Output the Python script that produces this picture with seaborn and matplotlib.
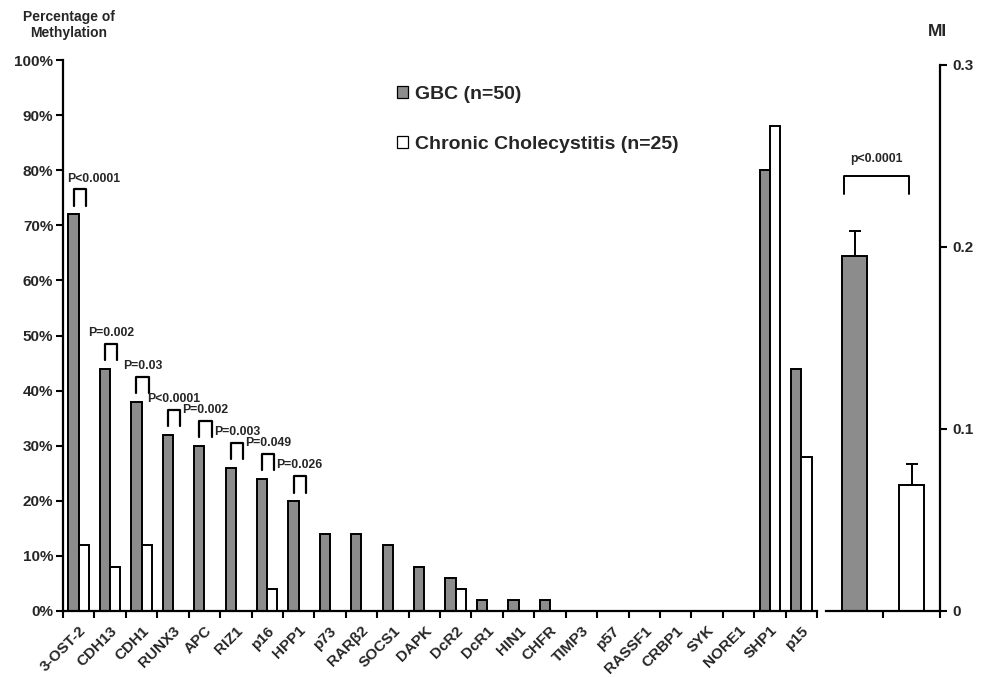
import numpy as np
import pandas as pd
import matplotlib.pyplot as plt
import seaborn as sns
from matplotlib.patches import Patch

# Dados
genes = ["3-OST-2", "CDH13", "CDH1", "RUNX3", "APC", "RIZ1", "p16", "HPP1", "p73",
         "RARβ2", "SOCS1", "DAPK", "DcR2", "DcR1", "HIN1", "CHFR", "TIMP3", "p57",
         "RASSF1", "CRBP1", "SYK", "NORE1", "SHP1", "p15"]
gbc_pct = [72, 44, 38, 32, 30, 26, 24, 20, 14, 14, 12, 8, 6, 2, 2, 2, 0, 0, 0, 0, 0, 0, 80, 44]
cc_pct = [12, 8, 12, 0, 0, 0, 4, 0, 0, 0, 0, 0, 4, 0, 0, 0, 0, 0, 0, 0, 0, 0, 88, 28]
grupos = ["GBC (n=50)", "Chronic Cholecystitis (n=25)"]

p_genes = ["3-OST-2", "CDH13", "CDH1", "RUNX3", "APC", "RIZ1", "p16", "HPP1"]
p_textos = ["P<0.0001", "P=0.002", "P=0.03", "P<0.0001", "P=0.002", "P=0.003", "P=0.049", "P=0.026"]

mi_media = [0.195, 0.069]
mi_erro = [0.014, 0.012]
mi_p = "p<0.0001"

cinza = "#8c8c8c"
cores = [cinza, "white"]

sns.set_theme(style="ticks")
plt.rcParams['font.family'] = ['Liberation Sans', 'DejaVu Sans']
plt.rcParams['font.weight'] = 'bold'

fig = plt.figure(figsize=(9.84, 6.77), dpi=100)
ax = fig.add_axes([63/984, 66/677, 754/984, 551/677])
ax2 = fig.add_axes([826/984, 66/677, 114/984, 546/677])

# painel esquerdo: porcentagem de metilação
df = pd.DataFrame({
    "Gene": genes * 2,
    "Percent": gbc_pct + cc_pct,
    "Grupo": [grupos[0]] * len(genes) + [grupos[1]] * len(genes),
})
sns.barplot(data=df, x="Gene", y="Percent", hue="Grupo", hue_order=grupos,
            palette=cores, saturation=1, edgecolor="black", linewidth=1.4,
            width=0.65, errorbar=None, legend=False, ax=ax)

ax.set_ylim(0, 100)
ax.set_yticks(range(0, 101, 10))
ax.set_yticklabels([f"{v}%" for v in range(0, 101, 10)], fontsize=11, fontweight="bold")
ax.set_xlim(-0.5, len(genes) - 0.5)
ax.set_xticks(range(len(genes)))
ax.set_xticklabels(genes, rotation=45, ha="right", rotation_mode="anchor",
                   fontsize=11, fontweight="bold")
ax.set_xticks(np.arange(-0.5, len(genes), 1), minor=True)
ax.tick_params(axis="x", which="major", length=0, pad=9)
ax.tick_params(axis="x", which="minor", length=5, width=1.5, color="black", direction="out")
ax.tick_params(axis="y", length=5, width=1.5, color="black", direction="out", pad=2)
ax.set_xlabel("")
ax.set_ylabel("")
for s in ["top", "right"]:
    ax.spines[s].set_visible(False)
for s in ["left", "bottom"]:
    ax.spines[s].set_linewidth(1.6)
    ax.spines[s].set_color("black")

# colchetes com valores de p
barras_gbc = ax.containers[0]
barras_cc = ax.containers[1]
for g, txt in zip(p_genes, p_textos):
    i = genes.index(g)
    b1, b2 = barras_gbc[i], barras_cc[i]
    x1 = b1.get_x() + b1.get_width() / 2
    x2 = b2.get_x() + b2.get_width() * 0.7
    h = gbc_pct[i]
    ax.plot([x1, x1, x2, x2], [h + 1.5, h + 4.5, h + 4.5, h + 1.5], color="black", lw=1.6)
    if i == 0:
        # o primeiro rótulo fica encostado no eixo, alinhado à esquerda
        ax.text(b1.get_x() - 0.05, h + 5.4, txt, ha="left", va="bottom",
                fontsize=8.8, fontweight="bold")
    else:
        ax.text((x1 + x2) / 2, h + 5.4, txt, ha="center", va="bottom",
                fontsize=8.8, fontweight="bold")

# legenda
handles = [Patch(facecolor=c, edgecolor="black", linewidth=0.9, label=l) for c, l in zip(cores, grupos)]
fig.legend(handles=handles, loc="upper left", bbox_to_anchor=(397/984, 1 - 86/677),
           frameon=False, prop={"weight": "bold", "size": 14},
           handlelength=0.55, handleheight=0.55, handletextpad=0.4,
           labelspacing=1.7, borderpad=0, borderaxespad=0)

# painel direito: MI
mi_df = pd.DataFrame({"Grupo": grupos, "MI": mi_media})
sns.barplot(data=mi_df, x="Grupo", y="MI", hue="Grupo", hue_order=grupos,
            palette=cores, saturation=1, edgecolor="black", linewidth=1.4,
            width=0.45, errorbar=None, legend=False, ax=ax2)
ax2.errorbar(x=range(len(mi_media)), y=mi_media, yerr=[np.zeros(len(mi_erro)), mi_erro],
             fmt="none", ecolor="black", elinewidth=1.4, capsize=4, capthick=1.4)

topo = max(m + e for m, e in zip(mi_media, mi_erro))
xa, xb = -0.18, 0.96
ax2.plot([xa, xa, xb, xb], [topo + 0.02, topo + 0.03, topo + 0.03, topo + 0.02], color="black", lw=1.4)
ax2.text((xa + xb) / 2, topo + 0.036, mi_p, ha="center", va="bottom", fontsize=8.8, fontweight="bold")

ax2.set_ylim(0, 0.3)
ax2.set_xlim(-0.5, 1.5)
ax2.yaxis.tick_right()
ax2.set_yticks([0, 0.1, 0.2, 0.3])
ax2.set_yticklabels(["0" if v == 0 else f"{v:.1f}" for v in [0, 0.1, 0.2, 0.3]],
                    fontsize=11, fontweight="bold")
ax2.set_xticks([0.5, 1.5])
ax2.set_xticklabels([])
ax2.tick_params(axis="x", length=5, width=1.5, color="black", direction="out")
ax2.tick_params(axis="y", length=5, width=1.5, color="black", direction="out", pad=4)
ax2.set_xlabel("")
ax2.set_ylabel("")
for s in ["top", "left"]:
    ax2.spines[s].set_visible(False)
for s in ["right", "bottom"]:
    ax2.spines[s].set_linewidth(1.6)
    ax2.spines[s].set_color("black")

fig.text(69/984, 1 - 25/677, "Percentage of\nMethylation", ha="center", va="center",
         fontsize=10, fontweight="bold", linespacing=1.15)
fig.text(937/984, 1 - 32/677, "MI", ha="center", va="center", fontsize=12.5, fontweight="bold")

fig.savefig("out.png", dpi=100)
plt.close(fig)
